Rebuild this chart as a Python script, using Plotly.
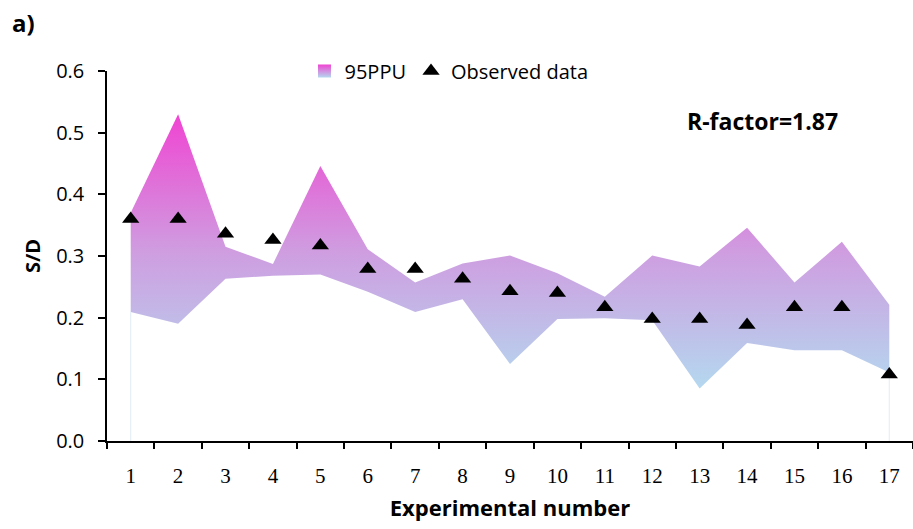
import plotly.graph_objects as go

# Experiment numbers and 95PPU band bounds
experiments = list(range(1, 18))
upper_95ppu = [0.37, 0.530, 0.315, 0.287, 0.446, 0.311, 0.257, 0.288, 0.301,
               0.272, 0.234, 0.301, 0.283, 0.346, 0.257, 0.323, 0.221]
lower_95ppu = [0.209, 0.190, 0.263, 0.268, 0.270, 0.242, 0.209, 0.230, 0.125,
               0.198, 0.199, 0.196, 0.085, 0.159, 0.147, 0.147, 0.111]
observed = [0.36, 0.36, 0.336, 0.326, 0.317, 0.279, 0.279, 0.263, 0.243,
            0.240, 0.217, 0.198, 0.198, 0.188, 0.217, 0.217, 0.108]
r_factor = 1.87

TOP_COLOR = "#f044d2"
BOTTOM_COLOR = "#b4d8ef"
SANS = "Open Sans, sans-serif"

fig = go.Figure()

# faint edges of the band down to the axis
for i in (0, len(experiments) - 1):
    fig.add_trace(go.Scatter(
        x=[experiments[i], experiments[i]], y=[0, lower_95ppu[i]],
        mode="lines", line=dict(color="rgba(200,220,235,0.5)", width=1),
        showlegend=False, hoverinfo="skip"))

fig.add_trace(go.Scatter(
    x=experiments, y=lower_95ppu, mode="lines",
    line=dict(width=0, color="rgba(0,0,0,0)"), showlegend=False, hoverinfo="skip"))
fig.add_trace(go.Scatter(
    x=experiments, y=upper_95ppu, mode="lines", name="95PPU", showlegend=False,
    line=dict(width=0, color="rgba(0,0,0,0)"),
    fill="tonexty",
    fillgradient=dict(type="vertical",
                      colorscale=[[0, BOTTOM_COLOR], [0.5, "#cf9de0"], [1, TOP_COLOR]]),
    fillcolor="#d48ee0"))

# legend key for the band: a square with the same vertical gradient
fig.add_trace(go.Scatter(
    x=[None], y=[None], mode="markers", name="95PPU",
    marker=dict(symbol="square", size=13, color=TOP_COLOR,
                gradient=dict(type="vertical", color=BOTTOM_COLOR),
                line=dict(width=0))))

fig.add_trace(go.Scatter(
    x=experiments, y=observed, mode="markers", name="Observed data",
    marker=dict(symbol="triangle-up", size=15, color="black")))

W, H = 913, 529
L, R, T, B = 107, 0, 71, 88
pw, ph = W - L - R, H - T - B


def px(x):
    return (x - L) / pw


def py(y):
    return (H - B - y) / ph


fig.add_annotation(x=px(685), y=py(121), xref="paper", yref="paper",
                   text=f"<b>R-factor={r_factor}</b>", showarrow=False,
                   xanchor="left", yanchor="middle",
                   font=dict(family=SANS, size=23, color="black"))
fig.add_annotation(x=px(10), y=py(22), xref="paper", yref="paper",
                   text="<b>a)</b>", showarrow=False, xanchor="left", yanchor="middle",
                   font=dict(family=SANS, size=24, color="black"))

fig.update_layout(
    width=W, height=H,
    margin=dict(l=L, r=R, t=T, b=B),
    plot_bgcolor="white", paper_bgcolor="white",
    font=dict(family=SANS, color="black"),
    legend=dict(orientation="h", traceorder="normal",
                x=px(449), y=py(71), xanchor="center", yanchor="middle",
                font=dict(family=SANS, size=20),
                itemwidth=30, bgcolor="rgba(0,0,0,0)"),
    xaxis=dict(
        range=[0.5, 17.5], tickvals=experiments, ticktext=[str(e) for e in experiments],
        ticks="", showgrid=False, zeroline=False,
        showline=True, linecolor="black", linewidth=1.5,
        tickfont=dict(family="Liberation Serif, Times New Roman, serif", size=21),
        ticklabelstandoff=15,
        minor=dict(tickmode="array",
                   tickvals=[e - 0.5 for e in experiments] + [experiments[-1] + 0.5],
                   ticks="outside", ticklen=6, tickcolor="black", tickwidth=1.5,
                   showgrid=False),
        title=dict(text="<b>Experimental number</b>", standoff=14,
                   font=dict(family=SANS, size=22)),
    ),
    yaxis=dict(
        range=[0, 0.6], tickvals=[0, 0.1, 0.2, 0.3, 0.4, 0.5, 0.6], tickformat=".1f",
        ticks="outside", ticklen=7, tickcolor="black", tickwidth=1.5,
        showgrid=False, zeroline=False,
        showline=True, linecolor="black", linewidth=1.5,
        tickfont=dict(family=SANS, size=20),
        ticklabelstandoff=10,
        title=dict(text="<b>S/D</b>", standoff=10,
                   font=dict(family=SANS, size=20)),
    ),
)

fig.write_html("out.html")
